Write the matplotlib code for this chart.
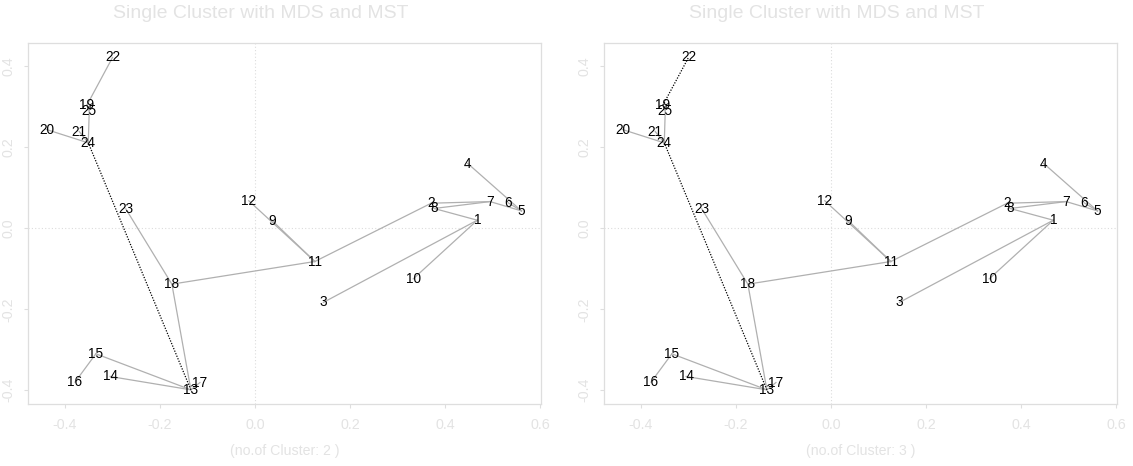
import matplotlib
matplotlib.use("Agg")
import matplotlib.pyplot as plt

plt.rcParams['font.family'] = ['Liberation Sans', 'DejaVu Sans']

# MDS coordinates of the 25 objects
labels = [str(i) for i in range(1, 26)]
mds_x = [0.468, 0.371, 0.144, 0.448, 0.561, 0.533, 0.495, 0.377, 0.037, 0.333,
         0.126, -0.013, -0.135, -0.305, -0.335, -0.379, -0.116, -0.175, -0.354, -0.439,
         -0.370, -0.300, -0.272, -0.351, -0.349]
mds_y = [0.020, 0.062, -0.183, 0.160, 0.043, 0.063, 0.066, 0.049, 0.018, -0.125,
         -0.082, 0.068, -0.399, -0.366, -0.310, -0.380, -0.381, -0.138, 0.304, 0.244,
         0.239, 0.422, 0.048, 0.211, 0.290]

# Minimum spanning tree edges (1-based object ids)
mst_edges = [(1, 3), (1, 10), (1, 8), (2, 7), (8, 7), (7, 5), (4, 5), (6, 5),
             (2, 11), (11, 18), (9, 11), (12, 11), (18, 23), (18, 13), (13, 17),
             (13, 14), (13, 15), (15, 16), (13, 24), (24, 21), (24, 20), (24, 25),
             (25, 19), (19, 22)]

# Edges removed to form the clusters, per panel
n_clusters = [2, 3]
cut_edges = [[(24, 13)], [(24, 13), (22, 19)]]

xticks = [-0.4, -0.2, 0.0, 0.2, 0.4, 0.6]
yticks = [-0.4, -0.2, 0.0, 0.2, 0.4]

title_text = "Single Cluster with MDS and MST"
faint = '#e3e3e3'
box_col = '#dedede'

W, H = 1133, 466
fig = plt.figure(figsize=(W / 100, H / 100), dpi=100)

panel_left = [28.3, 604.3]
panel_w = 512.4
top_px, bot_px = 43.3, 404.0

for k in range(2):
    ax = fig.add_axes([panel_left[k] / W, 1 - bot_px / H, panel_w / W, (bot_px - top_px) / H])
    ax.set_xlim(-0.4773, 0.6015)
    ax.set_ylim(-0.434, 0.457)

    ax.axvline(0, color='#dcdcdc', lw=0.8, ls=(0, (1, 2)), zorder=0)
    ax.axhline(0, color='#dcdcdc', lw=0.8, ls=(0, (1, 2)), zorder=0)

    cuts = set(frozenset(e) for e in cut_edges[k])
    for a, b in mst_edges:
        xs = [mds_x[a - 1], mds_x[b - 1]]
        ys = [mds_y[a - 1], mds_y[b - 1]]
        if frozenset((a, b)) in cuts:
            ax.plot(xs, ys, color='black', lw=0.9, ls=(0, (1, 1.2)), zorder=2)
        else:
            ax.plot(xs, ys, color='#b0b0b0', lw=0.9, zorder=1)

    for lab, x, y in zip(labels, mds_x, mds_y):
        ax.text(x, y, lab, ha='center', va='center', fontsize=9.8, color='black', zorder=3)

    for s in ax.spines.values():
        s.set_color(box_col)
        s.set_linewidth(0.9)

    ax.set_xticks(xticks)
    ax.set_xticklabels([f"{v:.1f}" for v in xticks])
    ax.set_yticks(yticks)
    ax.set_yticklabels([f"{v:.1f}" for v in yticks], rotation=90, va='center')
    ax.tick_params(axis='both', colors=box_col, labelcolor=faint, length=3,
                   width=0.8, labelsize=10.3)
    ax.tick_params(axis='x', pad=7)
    ax.tick_params(axis='y', pad=6)

    cx = (panel_left[k] + panel_w / 2) / W
    fig.text(cx - 24 / W, 1 - 14 / H, title_text, ha='center', va='center',
             fontsize=14, color=faint)
    fig.text(cx, 1 - 450.7 / H, f"(no.of Cluster: {n_clusters[k]} )", ha='center',
             va='center', fontsize=10.2, color=faint)

fig.savefig('out.png', dpi=100)
